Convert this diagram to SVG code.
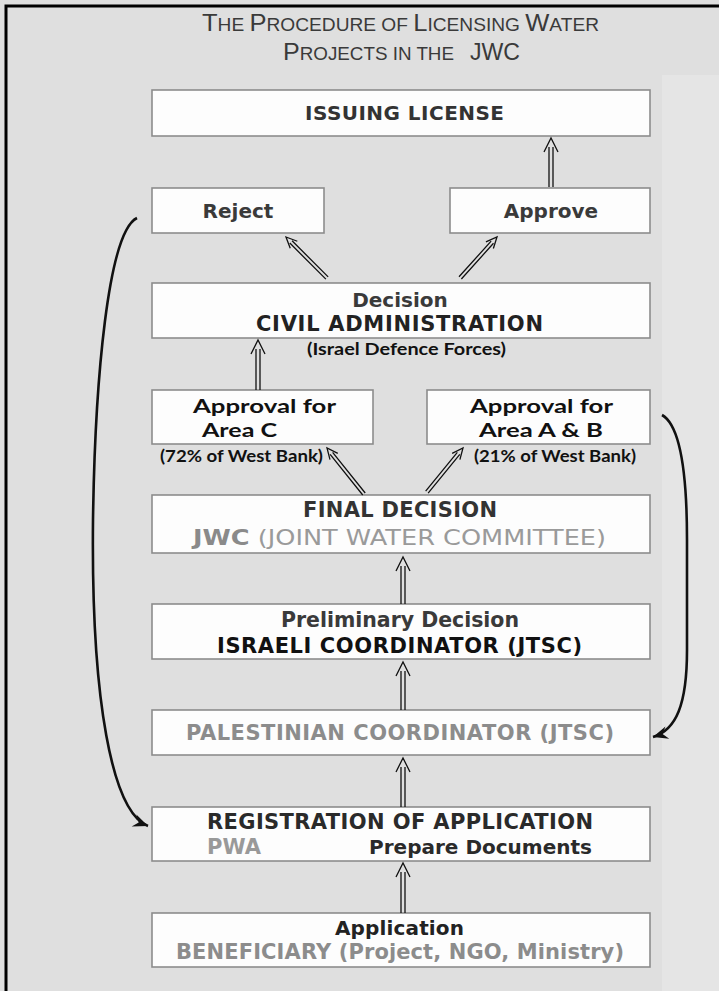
<svg xmlns="http://www.w3.org/2000/svg" width="719" height="991" viewBox="0 0 719 991">
<defs>
<style>
.bx{fill:#fdfdfd;stroke:#8c8c8c;stroke-width:1.6}
.t{font-family:"DejaVu Sans","Verdana",sans-serif;font-weight:bold}
.m{text-anchor:middle}
.s{text-anchor:start}
.f20{font-size:20px}
.f21{font-size:21px}
.f22{font-size:22px}
.c{font-family:Lato,"Open Sans",sans-serif;font-weight:bold;fill:#111}
.c20{font-size:19.5px}
.c17{font-size:17px}
.ttl{font-family:"Liberation Sans","Arial",sans-serif;fill:#3a3a3a}
.dbl{fill:none;stroke:#111;stroke-width:1.3}
.cv{fill:none;stroke:#111;stroke-width:2.6}
</style>
<marker id="ah" viewBox="-16 -8 17 16" refX="0" refY="0" markerWidth="17" markerHeight="16" markerUnits="userSpaceOnUse" orient="auto">
<path d="M0,0 L-15,-6.5 L-10,0 L-15,6.5 Z" fill="#111"/>
</marker>
</defs>
<rect x="0" y="0" width="719" height="991" fill="#dfdfdf"/>
<rect x="662" y="75" width="57" height="916" fill="#e5e5e5"/>
<path d="M6,991 V6 H719" fill="none" stroke="#000" stroke-width="3"/>

<g id="title">
<text class="ttl" x="202" y="31" textLength="397" lengthAdjust="spacingAndGlyphs"><tspan font-size="24">T</tspan><tspan font-size="18">HE </tspan><tspan font-size="24">P</tspan><tspan font-size="18">ROCEDURE OF </tspan><tspan font-size="24">L</tspan><tspan font-size="18">ICENSING </tspan><tspan font-size="24">W</tspan><tspan font-size="18">ATER</tspan></text>
<text class="ttl" x="283" y="60" textLength="171" lengthAdjust="spacingAndGlyphs"><tspan font-size="24">P</tspan><tspan font-size="18">ROJECTS IN THE</tspan></text>
<text class="ttl" x="470" y="60" font-size="24" textLength="50" lengthAdjust="spacingAndGlyphs">JWC</text>
</g>

<g id="issuing">
<rect class="bx" x="152" y="90" width="498" height="46"/>
<text class="t m f20" x="404.5" y="120" fill="#333" textLength="199">ISSUING LICENSE</text>
</g>

<g id="reject">
<rect class="bx" x="152" y="188" width="172" height="45"/>
<text class="t m f20" x="238" y="218" fill="#3a3a3a">Reject</text>
</g>

<g id="approve">
<rect class="bx" x="450" y="188" width="200" height="45"/>
<text class="t m f20" x="551" y="218" fill="#3a3a3a">Approve</text>
</g>

<g id="decision">
<rect class="bx" x="152" y="283" width="498" height="55"/>
<text class="t m f20" x="400" y="307" fill="#3a3a3a">Decision</text>
<text class="t m f21" x="399.5" y="331" fill="#222" textLength="287">CIVIL ADMINISTRATION</text>
<text class="c m" x="406.5" y="355" style="font-size:17.5px" textLength="199" lengthAdjust="spacingAndGlyphs">(Israel Defence Forces)</text>
</g>

<g id="areaC">
<rect class="bx" x="152" y="390" width="221" height="54"/>
<text class="c c20 m" x="264.5" y="413" textLength="143" lengthAdjust="spacingAndGlyphs">Approval for</text>
<text class="c c20 s" x="202" y="437" textLength="75" lengthAdjust="spacingAndGlyphs">Area C</text>
<text class="c c17 s" x="160" y="462" textLength="163" lengthAdjust="spacingAndGlyphs">(72% of West Bank)</text>
</g>

<g id="areaAB">
<rect class="bx" x="427" y="390" width="223" height="54"/>
<text class="c c20 m" x="541.5" y="413" textLength="143" lengthAdjust="spacingAndGlyphs">Approval for</text>
<text class="c c20 m" x="541" y="437" textLength="124" lengthAdjust="spacingAndGlyphs">Area A &amp; B</text>
<text class="c c17 s" x="474" y="462" textLength="162" lengthAdjust="spacingAndGlyphs">(21% of West Bank)</text>
</g>

<g id="final">
<rect class="bx" x="152" y="495" width="498" height="58" stroke="#a0a0a0"/>
<text class="t m f21" x="400" y="517" fill="#333" textLength="194">FINAL DECISION</text>
<text class="t m f22" x="399.5" y="545" fill="#9a9a9a" textLength="413" lengthAdjust="spacingAndGlyphs"><tspan fill="#8a8a8a">JWC</tspan><tspan style="font-weight:normal"> (JOINT WATER COMMITTEE)</tspan></text>
</g>

<g id="preliminary">
<rect class="bx" x="152" y="604" width="498" height="55"/>
<text class="t m" x="400" y="627" style="font-size:20.5px" fill="#3a3a3a" textLength="238">Preliminary Decision</text>
<text class="t m f21" x="399.5" y="653" fill="#111" textLength="365">ISRAELI COORDINATOR (JTSC)</text>
</g>

<g id="palestinian">
<rect class="bx" x="152" y="710" width="498" height="45" stroke="#a0a0a0"/>
<text class="t m f21" x="400" y="740" fill="#8c8c8c" textLength="428">PALESTINIAN COORDINATOR (JTSC)</text>
</g>

<g id="registration">
<rect class="bx" x="152" y="807" width="498" height="54"/>
<text class="t m f21" x="400" y="829" fill="#2a2a2a" textLength="386">REGISTRATION OF APPLICATION</text>
<text class="t s f21" x="207" y="854" fill="#999" textLength="54">PWA</text>
<text class="t s f20" x="369" y="854" fill="#2a2a2a" textLength="223">Prepare Documents</text>
</g>

<g id="application">
<rect class="bx" x="152" y="913" width="498" height="54" stroke="#a0a0a0"/>
<text class="t m f20" x="399.5" y="935" fill="#222" textLength="129">Application</text>
<text class="t m f21" x="400" y="959" fill="#8c8c8c" textLength="448">BENEFICIARY (Project, NGO, Ministry)</text>
</g>

<g id="connectors">
<path class="dbl" d="M549,147 V187 M553,147 V187 M544,152 L551,138 L558,152"/>
<path class="dbl" d="M256,349 V390 M260,349 V390 M251,354 L258,340 L265,354"/>
<path class="dbl" d="M401,566 V604 M405,566 V604 M396,571 L403,557 L410,571"/>
<path class="dbl" d="M401,671 V710 M405,671 V710 M396,676 L403,662 L410,676"/>
<path class="dbl" d="M401,767 V807 M405,767 V807 M396,772 L403,758 L410,772"/>
<path class="dbl" d="M401,872 V913 M405,872 V913 M396,877 L403,863 L410,877"/>
<g transform="translate(286,237) rotate(-45)"><path class="dbl" d="M-1.6,7 V58 M1.6,7 V58 M-5,11 L0,0 L5,11"/></g>
<g transform="translate(497,237) rotate(42)"><path class="dbl" d="M-1.6,7 V55 M1.6,7 V55 M-5,11 L0,0 L5,11"/></g>
<g transform="translate(327,448) rotate(-38.8)"><path class="dbl" d="M-1.6,7 V59 M1.6,7 V59 M-5,11 L0,0 L5,11"/></g>
<g transform="translate(463,448) rotate(39.3)"><path class="dbl" d="M-1.6,7 V57 M1.6,7 V57 M-5,11 L0,0 L5,11"/></g>
<path class="cv" d="M137,218 C108,232 95,380 93,520 C91,700 112,812 148,826" marker-end="url(#ah)"/>
<path class="cv" d="M662,415 C680,425 687,470 687,540 L687,650 C687,705 676,730 653,737" marker-end="url(#ah)"/>
</g>
</svg>
